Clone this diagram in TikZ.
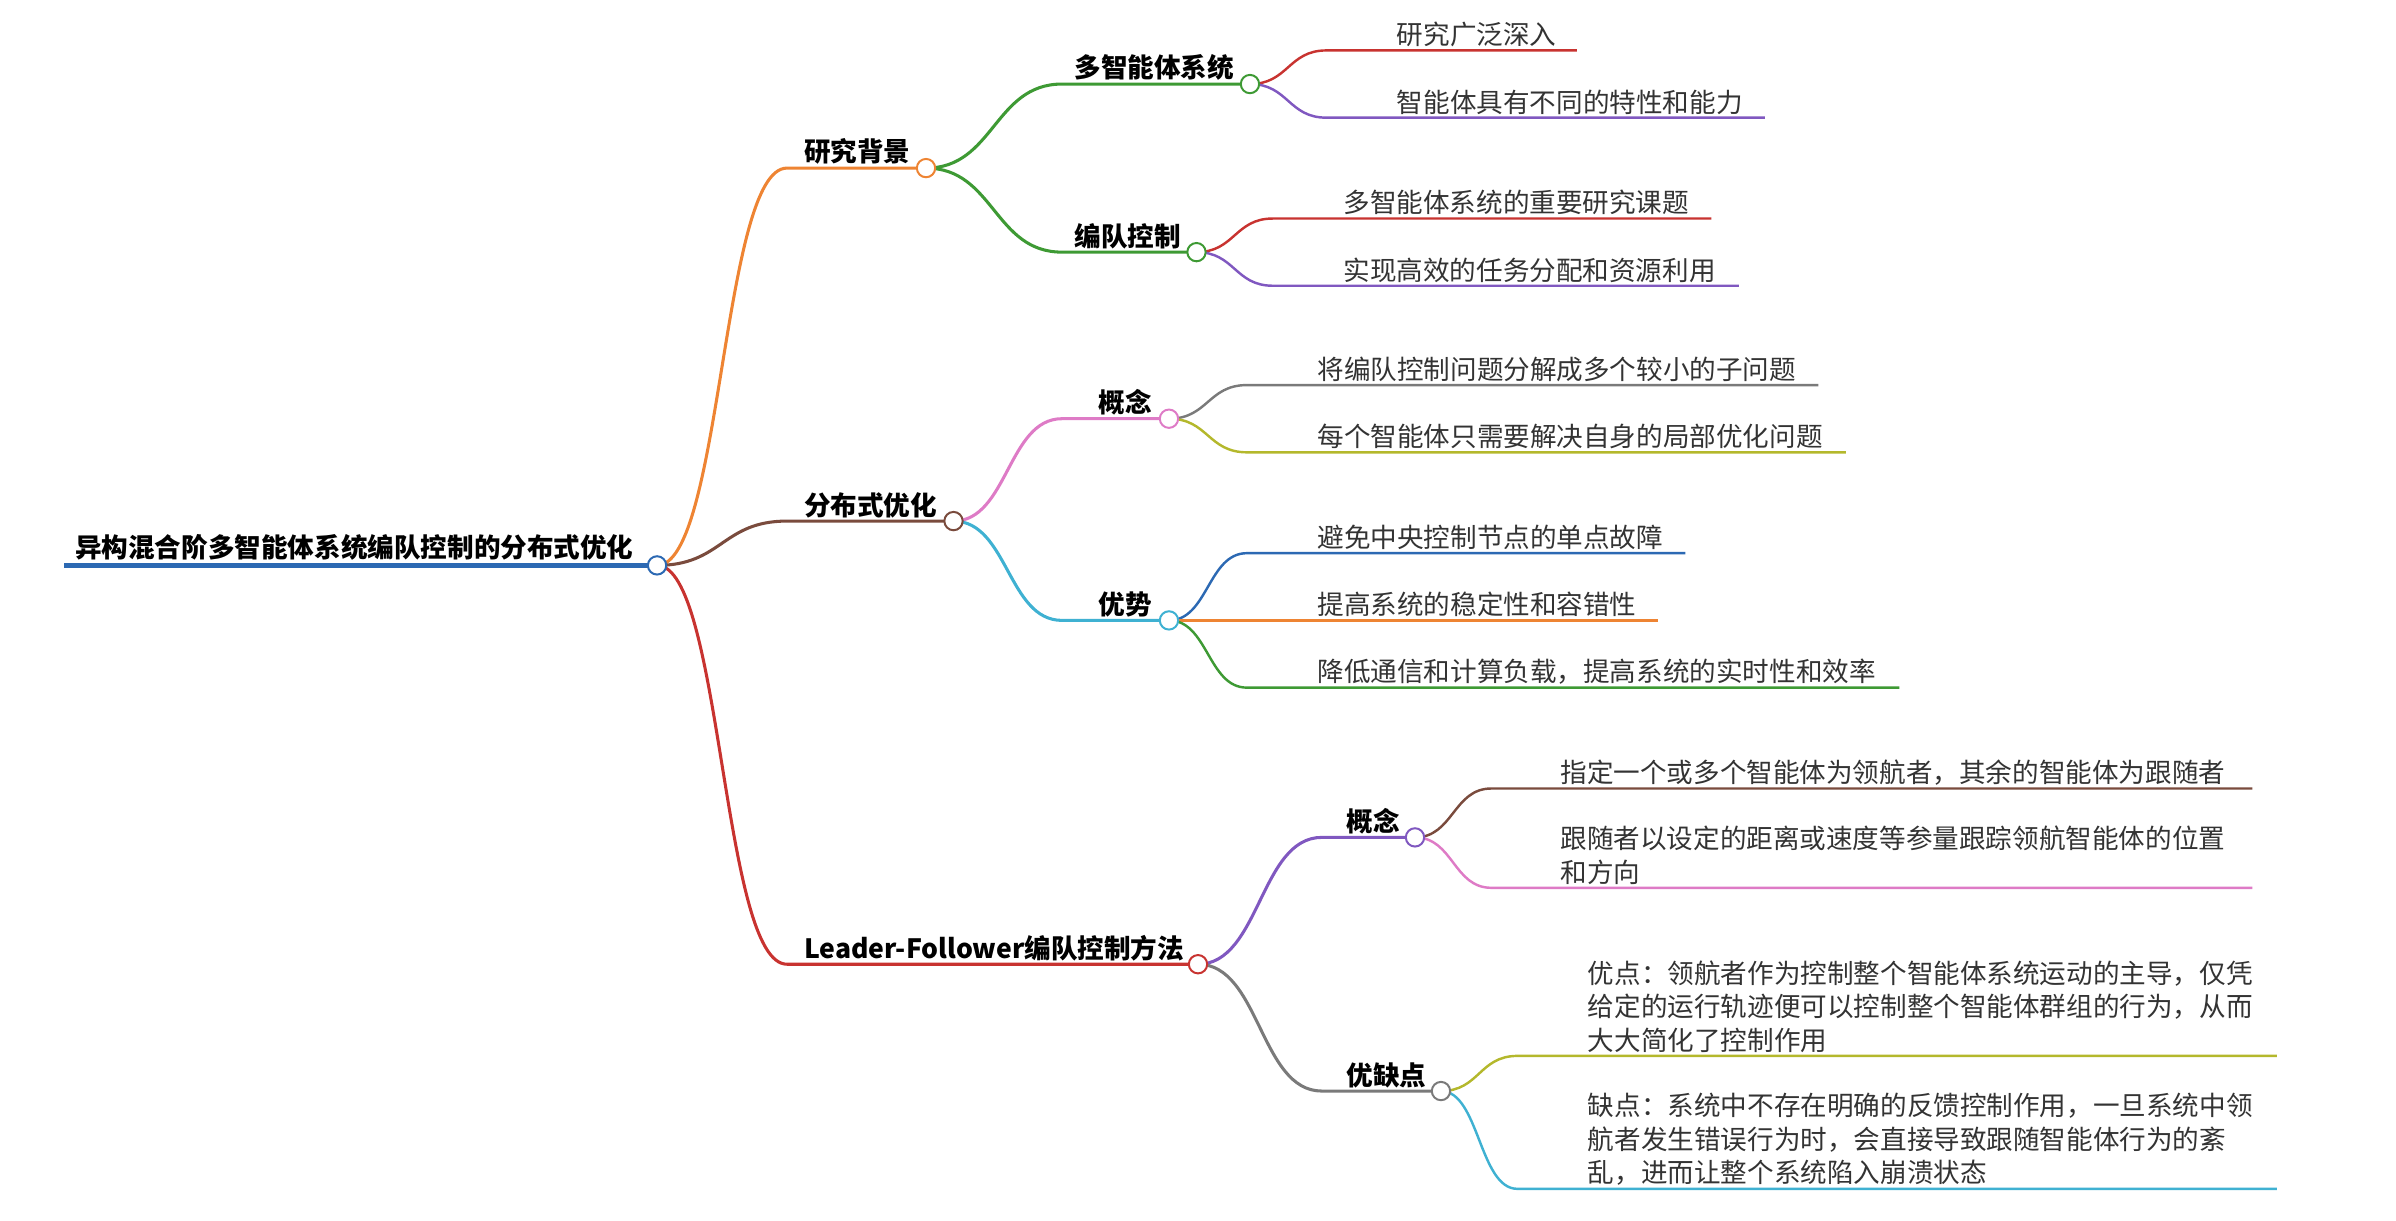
\documentclass[tikz,border=0pt]{standalone}
\usepackage{fontspec}
\setmainfont{Noto Sans CJK SC}
\usetikzlibrary{calc}
\begin{document}
\begin{tikzpicture}[x=1pt,y=-1pt,
  lbl/.style={inner sep=1pt,font=\fontsize{17.4}{22}\selectfont,anchor=south west,align=left,text=black!80},
  blbl/.style={inner sep=1pt,font=\fontsize{17.4}{22}\selectfont\bfseries,anchor=south west},
  dot/.style={circle,draw=#1,fill=white,line width=1.3pt,minimum size=12pt,inner sep=0pt},
  ln/.style={line width=1.6pt},
  br/.style={line width=2pt}]
\definecolor{cOr}{HTML}{EE8433}\definecolor{cGr}{HTML}{3E9A34}\definecolor{cRd}{HTML}{C83330}
\definecolor{cPu}{HTML}{8058C0}\definecolor{cBr}{HTML}{7A4B3D}\definecolor{cPk}{HTML}{DE7BC6}
\definecolor{cGy}{HTML}{7A7A7A}\definecolor{cOl}{HTML}{B4B82C}\definecolor{cCy}{HTML}{3FB1D2}
\definecolor{cBl}{HTML}{2C69B3}
\useasboundingbox (0,0) rectangle (1568,798.4);
\newcommand\brch[8]{% color, parent, name, x1, x2, y, text, textx
  \coordinate (#3s) at (#4,#6); \coordinate (#3) at (#5,#6);
  \coordinate (#3m) at ($(#2)!0.5!(#3s)$);
  \draw[#1,br] (#2) .. controls (#3m |- #2) and (#3m |- #3s) .. (#3s) -- (#3);
  \node[blbl] (#3t) at (#8,#6-1) {#7};}
\newcommand\leaf[8]{% color, parent, name, x1, x2, y, text, textx
  \coordinate (#3s) at (#4,#6); \coordinate (#3) at (#5,#6);
  \coordinate (#3m) at ($(#2)!0.5!(#3s)$);
  \draw[#1,ln] (#2) .. controls (#3m |- #2) and (#3m |- #3s) .. (#3s) -- (#3);
  \node[lbl] (#3t) at (#8,#6-1) {#7};}
% root
\coordinate (r0) at (42,370); \coordinate (r) at (430,370);
\draw[cBl,line width=3.5pt] (r0)--(r);
\node[blbl] (rt) at (48,368) {异构混合阶多智能体系统编队控制的分布式优化};
% level 1
\brch{cOr}{r}{a}{515}{606}{110}{研究背景}{525}
\brch{cBr}{r}{b}{515}{624}{341}{分布式优化}{525}
\brch{cRd}{r}{c}{515}{784}{631}{Leader-Follower编队控制方法}{525}
% level 2
\brch{cGr}{a}{a1}{695}{818}{55}{多智能体系统}{702}
\brch{cGr}{a}{a2}{695}{783}{165}{编队控制}{702}
\brch{cPk}{b}{b1}{695}{765}{274}{概念}{718}
\brch{cCy}{b}{b2}{695}{765}{406}{优势}{718}
\brch{cPu}{c}{c1}{865}{926}{548}{概念}{880}
\brch{cGy}{c}{c2}{865}{943}{714}{优缺点}{880}
% leaves
\leaf{cRd}{a1}{a11}{868}{1032}{33}{研究广泛深入}{913}
\leaf{cPu}{a1}{a12}{868}{1155}{77}{智能体具有不同的特性和能力}{913}
\leaf{cRd}{a2}{a21}{833}{1120}{143}{多智能体系统的重要研究课题}{878}
\leaf{cPu}{a2}{a22}{833}{1138}{187}{实现高效的任务分配和资源利用}{878}
\leaf{cGy}{b1}{b11}{816}{1190}{252}{将编队控制问题分解成多个较小的子问题}{861}
\leaf{cOl}{b1}{b12}{816}{1208}{296}{每个智能体只需要解决自身的局部优化问题}{861}
\leaf{cBl}{b2}{b21}{816}{1103}{362}{避免中央控制节点的单点故障}{861}
\leaf{cOr}{b2}{b22}{816}{1085}{406}{提高系统的稳定性和容错性}{861}
\leaf{cGr}{b2}{b23}{816}{1243}{450}{降低通信和计算负载，提高系统的实时性和效率}{861}
\leaf{cBr}{c1}{c11}{976}{1474}{516}{指定一个或多个智能体为领航者，其余的智能体为跟随者}{1020}
\leaf{cPk}{c1}{c12}{976}{1474}{581}{跟随者以设定的距离或速度等参量跟踪领航智能体的位置\\和方向}{1020}
\leaf{cOl}{c2}{c21}{993}{1490}{691}{优点：领航者作为控制整个智能体系统运动的主导，仅凭\\给定的运行轨迹便可以控制整个智能体群组的行为，从而\\大大简化了控制作用}{1038}
\leaf{cCy}{c2}{c22}{993}{1490}{778}{缺点：系统中不存在明确的反馈控制作用，一旦系统中领\\航者发生错误行为时，会直接导致跟随智能体行为的紊\\乱，进而让整个系统陷入崩溃状态}{1038}
% dots
\node[dot=cBl] at (r) {};
\node[dot=cOr] at (a) {}; \node[dot=cBr] at (b) {}; \node[dot=cRd] at (c) {};
\node[dot=cGr] at (a1) {}; \node[dot=cGr] at (a2) {};
\node[dot=cPk] at (b1) {}; \node[dot=cCy] at (b2) {};
\node[dot=cPu] at (c1) {}; \node[dot=cGy] at (c2) {};
\end{tikzpicture}
\end{document}
